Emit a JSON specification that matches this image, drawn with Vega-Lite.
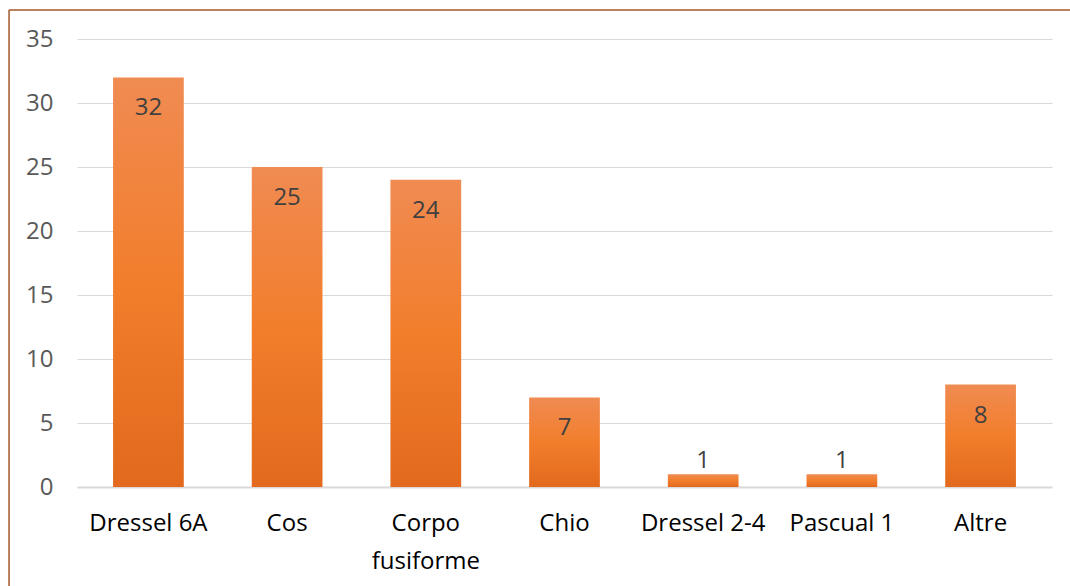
{
  "$schema": "https://vega.github.io/schema/vega-lite/v6.json",
  "width": 975,
  "height": 448,
  "autosize": {"type": "none"},
  "padding": {"left": 77, "top": 39, "right": 18, "bottom": 99},
  "background": "white",
  "config": {
    "view": {"stroke": null},
    "font": "Open Sans",
    "axis": {"labelFont": "Open Sans", "labelFontSize": 24}
  },
  "data": {
    "values": [
      {"cat": "Dressel 6A", "n": 32},
      {"cat": "Cos", "n": 25},
      {"cat": "Corpo fusiforme", "n": 24},
      {"cat": "Chio", "n": 7},
      {"cat": "Dressel 2-4", "n": 1},
      {"cat": "Pascual 1", "n": 1},
      {"cat": "Altre", "n": 8}
    ]
  },
  "resolve": {"scale": {"x": "independent"}},
  "layer": [
    {
      "encoding": {
        "x": {
          "field": "cat",
          "type": "nominal",
          "sort": null,
          "scale": {"paddingInner": 0.49, "paddingOuter": 0.26},
          "axis": {
            "title": null,
            "labelAngle": 0,
            "ticks": false,
            "domainColor": "#D9D9D9",
            "domainWidth": 2,
            "labelColor": "#000000",
            "labelPadding": 24,
            "labelLineHeight": 38,
            "labelExpr": "datum.value == 'Corpo fusiforme' ? ['Corpo', 'fusiforme'] : datum.value"
          }
        },
        "y": {
          "field": "n",
          "type": "quantitative",
          "scale": {"domain": [0, 35], "nice": false},
          "axis": {
            "title": null,
            "values": [0, 5, 10, 15, 20, 25, 30, 35],
            "ticks": false,
            "domain": false,
            "gridColor": "#D9D9D9",
            "gridWidth": 1,
            "labelColor": "#595959",
            "labelPadding": 24
          }
        }
      },
      "layer": [
        {
          "mark": {
            "type": "bar",
            "color": {
              "gradient": "linear",
              "x1": 0, "y1": 0, "x2": 0, "y2": 1,
              "stops": [
                {"offset": 0, "color": "#F08B52"},
                {"offset": 0.5, "color": "#F27E2C"},
                {"offset": 1, "color": "#E2691D"}
              ]
            }
          }
        },
        {
          "transform": [{"filter": "datum.n >= 5"}],
          "mark": {"type": "text", "baseline": "middle", "dy": 31, "fontSize": 24, "color": "#404040", "font": "Open Sans"},
          "encoding": {"text": {"field": "n", "type": "quantitative"}}
        },
        {
          "transform": [{"filter": "datum.n < 5"}],
          "mark": {"type": "text", "baseline": "middle", "dy": -13, "fontSize": 24, "color": "#404040", "font": "Open Sans"},
          "encoding": {"text": {"field": "n", "type": "quantitative"}}
        }
      ]
    },
    {
      "data": {"values": [{}]},
      "mark": {"type": "rule", "color": "#A3582A", "strokeWidth": 1.5},
      "encoding": {
        "x": {"datum": -0.0697, "type": "quantitative", "scale": {"domain": [0, 1], "nice": false, "zero": false}, "axis": null},
        "x2": {"datum": 1.03},
        "y": {"datum": 37.27, "type": "quantitative"}
      }
    },
    {
      "data": {"values": [{}]},
      "mark": {"type": "rule", "color": "#A3582A", "strokeWidth": 1.5},
      "encoding": {
        "x": {"datum": -0.0697, "type": "quantitative", "scale": {"domain": [0, 1], "nice": false, "zero": false}, "axis": null},
        "y": {"datum": 37.27, "type": "quantitative"},
        "y2": {"datum": -8}
      }
    }
  ]
}
